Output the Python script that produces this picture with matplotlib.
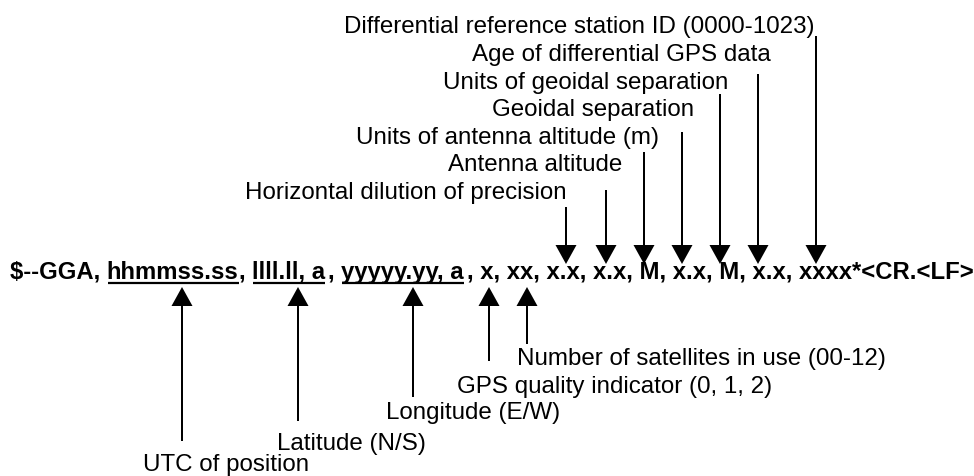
import matplotlib
matplotlib.use('Agg')
import matplotlib.pyplot as plt
from matplotlib.font_manager import FontProperties

# sentence pieces: (text, underlined)
sentence = [
    ("$--GGA, ", False),
    ("hhmmss.ss", True),
    (", ", False),
    ("llll.ll, a", True),
    (", ", False),
    ("yyyyy.yy, a", True),
    (", x, xx, x.x, x.x, M, x.x, M, x.x, xxxx*<CR.<LF>", False),
]

top_labels = [
    "Differential reference station ID (0000-1023)",
    "Age of differential GPS data",
    "Units of geoidal separation",
    "Geoidal separation",
    "Units of antenna altitude (m)",
    "Antenna altitude",
    "Horizontal dilution of precision",
]
bottom_labels = [
    "UTC of position",
    "Latitude (N/S)",
    "Longitude (E/W)",
    "GPS quality indicator (0, 1, 2)",
    "Number of satellites in use (00-12)",
]

# layout in pixels (y grows downwards)
top_label_x = [344, 472, 443, 492, 356, 448, 245]
top_label_base = [33, 61, 89, 116, 144, 171, 199]
top_arrow_x = [816, 758, 720, 682, 644, 606, 566]
top_arrow_start = [37, 75, 95, 133, 153, 191, 208]
top_tip = 265

bottom_label_x = [143, 277, 386, 457, 517]
bottom_label_base = [471, 450, 419, 393, 365]
bottom_arrow_x = [182, 298, 413, 489, 527]
bottom_arrow_start = [442, 422, 398, 362, 345]
bottom_tip = 288

W, H = 974, 477
fig = plt.figure(figsize=(W / 100, H / 100), dpi=100)
ax = fig.add_axes([0, 0, 1, 1])
ax.set_xlim(0, W)
ax.set_ylim(H, 0)
ax.axis('off')
renderer = fig.canvas.get_renderer()

bold = FontProperties(family='Liberation Sans', weight='bold', size=10)
regular = FontProperties(family='Liberation Sans', size=17.4)


def advance(s, fp):
    # width of s including trailing spaces
    t1 = ax.text(0, 0, s + '|', fontproperties=fp)
    t2 = ax.text(0, 0, '|', fontproperties=fp)
    w = t1.get_window_extent(renderer).width - t2.get_window_extent(renderer).width
    t1.remove()
    t2.remove()
    return w


# fit the bold sentence between x=10 and x=972
full = ''.join(s for s, _ in sentence)
bold.set_size(10 * (962 - 4) / advance(full, bold))

x = 10
base = 279
for s, under in sentence:
    ax.text(x, base, s, fontproperties=bold, va='baseline', ha='left', color='black')
    w = advance(s, bold)
    if under:
        ax.plot([x + 1, x + w], [284, 284], color='black', lw=1.6, solid_capstyle='butt')
        if s.endswith('a'):
            w += 3
    x += w

for lab, lx, ly in zip(top_labels, top_label_x, top_label_base):
    ax.text(lx, ly, lab, fontproperties=regular, va='baseline', ha='left', color='black')
for lab, lx, ly in zip(bottom_labels, bottom_label_x, bottom_label_base):
    ax.text(lx, ly, lab, fontproperties=regular, va='baseline', ha='left', color='black')

arrow_kw = dict(width=2, head_width=21, head_length=19, length_includes_head=True,
                color='black', lw=0)
for ax_x, y0 in zip(top_arrow_x, top_arrow_start):
    ax.arrow(ax_x, y0, 0, top_tip - y0, **arrow_kw)
for ax_x, y0 in zip(bottom_arrow_x, bottom_arrow_start):
    ax.arrow(ax_x, y0, 0, bottom_tip - y0, **arrow_kw)

fig.savefig('out.png', dpi=100, facecolor='white')
